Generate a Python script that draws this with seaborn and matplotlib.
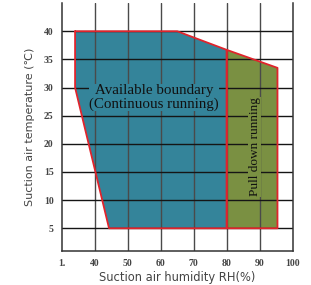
import matplotlib
matplotlib.use("Agg")
import matplotlib.pyplot as plt
import seaborn as sns

# ---- data ----
blue_rh   = [34, 65, 80, 80, 44.3, 34]
blue_temp = [40, 40, 36.7, 5, 5, 30]
green_rh   = [80, 95.4, 95.4, 80]
green_temp = [36.7, 33.5, 5, 5]

x_ticks = [30, 40, 50, 60, 70, 80, 90, 100]
x_tick_labels = ["1.", "40", "50", "60", "70", "80", "90", "100"]
y_ticks = [5, 10, 15, 20, 25, 30, 35, 40]
y_tick_labels = [str(v) for v in y_ticks]

sns.set_style("white")
plt.rcParams['font.family'] = ['DejaVu Sans', 'Noto Sans CJK SC']

fig = plt.figure(figsize=(3.11, 2.85), dpi=100)
ax = fig.add_axes([0.199, 0.120, 0.742, 0.869])

# polygons
ax.fill(blue_rh, blue_temp, facecolor='#34849A', edgecolor='none', zorder=1)
ax.fill(green_rh, green_temp, facecolor='#7A9042', edgecolor='none', zorder=1)

# grid drawn over the fills
for xv in x_ticks[1:-1]:
    ax.axvline(xv, color='#4a4a4a', linewidth=1.0, zorder=2)
for yv in y_ticks:
    ax.axhline(yv, color='#151515', linewidth=1.0, zorder=2)
# red outlines on top
ax.plot(blue_rh + blue_rh[:1], blue_temp + blue_temp[:1], color='#E0242C', linewidth=1.3, zorder=3)
ax.plot(green_rh + green_rh[:1], green_temp + green_temp[:1], color='#E0242C', linewidth=1.3, zorder=3)

ax.set_xlim(30, 100)
ax.set_ylim(1, 45)
ax.set_xticks(x_ticks)
ax.set_xticklabels(x_tick_labels, family='Liberation Serif', fontweight='bold', fontsize=7, color='#444444')
ax.set_yticks(y_ticks)
ax.set_yticklabels(y_tick_labels, family='Liberation Serif', fontweight='bold', fontsize=7, color='#444444')
ax.tick_params(length=0, pad=6)

for side in ['left', 'bottom', 'right']:
    ax.spines[side].set_color('#333333')
    ax.spines[side].set_linewidth(1.1)
ax.spines['top'].set_visible(False)

ax.text(57.9, 28.2, "Available boundary\n(Continuous running)", ha='center', va='center',
        family='Liberation Serif', fontsize=10.8, color='#111111', linespacing=1.0, zorder=4,
        bbox=dict(facecolor='#34849A', edgecolor='none', pad=0.3))
ax.text(88.5, 19.5, "Pull down running", ha='center', va='center', rotation=90,
        family='Liberation Serif', fontsize=9.5, color='#111111', zorder=4,
        bbox=dict(facecolor='#7A9042', edgecolor='none', pad=0.3))

ax.set_xlabel("Suction air humidity RH(%)", fontsize=8.3, color='#444444', labelpad=2)
ax.set_ylabel("Suction air temperature (℃)", fontsize=8.0, color='#444444', labelpad=6)

fig.savefig("out.png", dpi=100)
